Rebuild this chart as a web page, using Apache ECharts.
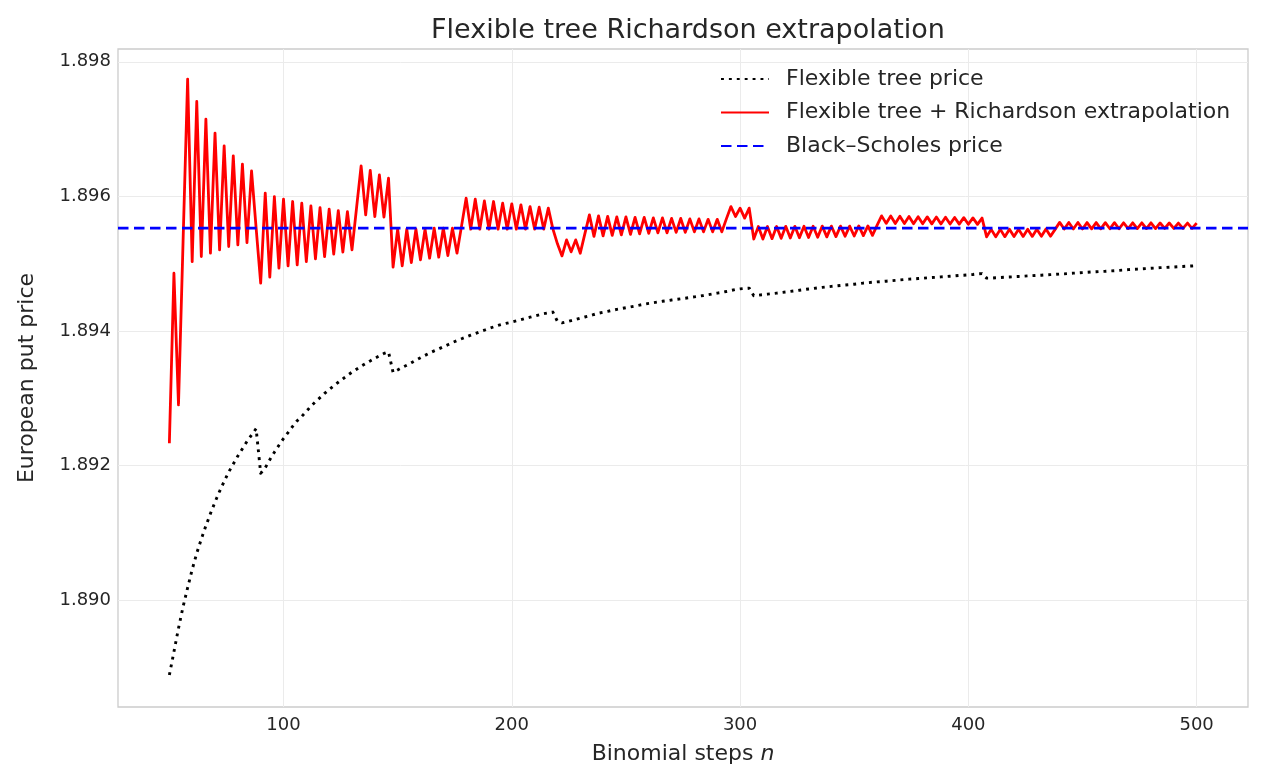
<!DOCTYPE html>
<html>
<head>
<meta charset="utf-8">
<title>Flexible tree Richardson extrapolation</title>
<script src="https://cdn.jsdelivr.net/npm/echarts@6/dist/echarts.min.js"></script>
<style>
  html, body { margin: 0; padding: 0; background: #ffffff; }
  #main { width: 1264px; height: 784px; }
</style>
</head>
<body>
<div id="main"></div>
<script>
// binomial steps n
var steps = [
	50, 52, 54, 56, 58, 60, 62, 64, 66, 68,
	70, 72, 74, 76, 78, 80, 82, 84, 86, 88,
	90, 92, 94, 96, 98, 100, 102, 104, 106, 108,
	110, 112, 114, 116, 118, 120, 122, 124, 126, 128,
	130, 132, 134, 136, 138, 140, 142, 144, 146, 148,
	150, 152, 154, 156, 158, 160, 162, 164, 166, 168,
	170, 172, 174, 176, 178, 180, 182, 184, 186, 188,
	190, 192, 194, 196, 198, 200, 202, 204, 206, 208,
	210, 212, 214, 216, 218, 220, 222, 224, 226, 228,
	230, 232, 234, 236, 238, 240, 242, 244, 246, 248,
	250, 252, 254, 256, 258, 260, 262, 264, 266, 268,
	270, 272, 274, 276, 278, 280, 282, 284, 286, 288,
	290, 292, 294, 296, 298, 300, 302, 304, 306, 308,
	310, 312, 314, 316, 318, 320, 322, 324, 326, 328,
	330, 332, 334, 336, 338, 340, 342, 344, 346, 348,
	350, 352, 354, 356, 358, 360, 362, 364, 366, 368,
	370, 372, 374, 376, 378, 380, 382, 384, 386, 388,
	390, 392, 394, 396, 398, 400, 402, 404, 406, 408,
	410, 412, 414, 416, 418, 420, 422, 424, 426, 428,
	430, 432, 434, 436, 438, 440, 442, 444, 446, 448,
	450, 452, 454, 456, 458, 460, 462, 464, 466, 468,
	470, 472, 474, 476, 478, 480, 482, 484, 486, 488,
	490, 492, 494, 496, 498, 500
];

// flexible tree price (black dotted)
var treePrice = [
	1.888885, 1.889230, 1.889581, 1.889899, 1.890183, 1.890454, 1.890696, 1.890906, 1.891103, 1.891285,
	1.891457, 1.891616, 1.891762, 1.891903, 1.892022, 1.892141, 1.892250, 1.892358, 1.892452, 1.892547,
	1.891884, 1.891966, 1.892086, 1.892196, 1.892300, 1.892400, 1.892489, 1.892580, 1.892665, 1.892730,
	1.892803, 1.892880, 1.892946, 1.893008, 1.893071, 1.893129, 1.893184, 1.893237, 1.893288, 1.893337,
	1.893387, 1.893430, 1.893474, 1.893515, 1.893554, 1.893593, 1.893630, 1.893665, 1.893688, 1.893383,
	1.893420, 1.893457, 1.893490, 1.893527, 1.893564, 1.893600, 1.893636, 1.893671, 1.893703, 1.893732,
	1.893764, 1.893795, 1.893827, 1.893856, 1.893883, 1.893909, 1.893936, 1.893961, 1.893987, 1.894010,
	1.894036, 1.894059, 1.894082, 1.894100, 1.894116, 1.894131, 1.894149, 1.894167, 1.894186, 1.894204,
	1.894222, 1.894239, 1.894256, 1.894269, 1.894280, 1.894141, 1.894119, 1.894134, 1.894152, 1.894171,
	1.894190, 1.894207, 1.894223, 1.894244, 1.894263, 1.894277, 1.894290, 1.894306, 1.894320, 1.894332,
	1.894345, 1.894357, 1.894370, 1.894384, 1.894397, 1.894409, 1.894419, 1.894430, 1.894440, 1.894449,
	1.894459, 1.894468, 1.894477, 1.894486, 1.894497, 1.894506, 1.894516, 1.894526, 1.894538, 1.894550,
	1.894562, 1.894572, 1.894586, 1.894601, 1.894616, 1.894625, 1.894632, 1.894636, 1.894523, 1.894531,
	1.894538, 1.894546, 1.894553, 1.894561, 1.894570, 1.894578, 1.894587, 1.894596, 1.894605, 1.894614,
	1.894623, 1.894630, 1.894639, 1.894647, 1.894654, 1.894662, 1.894668, 1.894675, 1.894681, 1.894687,
	1.894694, 1.894702, 1.894711, 1.894717, 1.894723, 1.894729, 1.894733, 1.894739, 1.894745, 1.894751,
	1.894757, 1.894763, 1.894769, 1.894773, 1.894778, 1.894782, 1.894788, 1.894793, 1.894798, 1.894803,
	1.894807, 1.894813, 1.894818, 1.894824, 1.894828, 1.894833, 1.894839, 1.894848, 1.894852, 1.894784,
	1.894785, 1.894790, 1.894794, 1.894798, 1.894801, 1.894806, 1.894809, 1.894813, 1.894818, 1.894821,
	1.894825, 1.894828, 1.894833, 1.894836, 1.894840, 1.894845, 1.894848, 1.894854, 1.894858, 1.894862,
	1.894867, 1.894871, 1.894876, 1.894879, 1.894883, 1.894886, 1.894891, 1.894895, 1.894900, 1.894904,
	1.894910, 1.894915, 1.894919, 1.894923, 1.894926, 1.894931, 1.894935, 1.894940, 1.894943, 1.894947,
	1.894950, 1.894955, 1.894958, 1.894962, 1.894965, 1.894970
];

// flexible tree + Richardson extrapolation (red)
var richardson = [
	1.892330, 1.894858, 1.892900, 1.895323, 1.897743, 1.895030, 1.897410, 1.895105, 1.897148, 1.895155,
	1.896940, 1.895204, 1.896751, 1.895254, 1.896602, 1.895279, 1.896479, 1.895313, 1.896379, 1.895532,
	1.894709, 1.896048, 1.894799, 1.895997, 1.894932, 1.895958, 1.894967, 1.895923, 1.894981, 1.895899,
	1.895030, 1.895859, 1.895071, 1.895833, 1.895105, 1.895810, 1.895141, 1.895789, 1.895170, 1.895774,
	1.895204, 1.895829, 1.896454, 1.895725, 1.896384, 1.895700, 1.896320, 1.895691, 1.896271, 1.894947,
	1.895512, 1.894967, 1.895512, 1.895016, 1.895512, 1.895056, 1.895512, 1.895081, 1.895527, 1.895096,
	1.895527, 1.895120, 1.895527, 1.895155, 1.895561, 1.895973, 1.895512, 1.895958, 1.895512, 1.895933,
	1.895512, 1.895923, 1.895512, 1.895899, 1.895512, 1.895889, 1.895512, 1.895874, 1.895512, 1.895848,
	1.895512, 1.895839, 1.895512, 1.895825, 1.895517, 1.895294, 1.895115, 1.895353, 1.895175, 1.895353,
	1.895155, 1.895442, 1.895725, 1.895405, 1.895710, 1.895413, 1.895703, 1.895420, 1.895695, 1.895428,
	1.895695, 1.895435, 1.895688, 1.895442, 1.895688, 1.895450, 1.895680, 1.895457, 1.895680, 1.895457,
	1.895673, 1.895465, 1.895673, 1.895465, 1.895665, 1.895472, 1.895665, 1.895472, 1.895658, 1.895472,
	1.895658, 1.895472, 1.895665, 1.895848, 1.895700, 1.895825, 1.895676, 1.895825, 1.895364, 1.895551,
	1.895365, 1.895552, 1.895371, 1.895552, 1.895376, 1.895554, 1.895380, 1.895554, 1.895384, 1.895555,
	1.895389, 1.895555, 1.895393, 1.895557, 1.895398, 1.895557, 1.895402, 1.895558, 1.895407, 1.895558,
	1.895411, 1.895560, 1.895416, 1.895560, 1.895420, 1.895569, 1.895710, 1.895598, 1.895707, 1.895597,
	1.895704, 1.895596, 1.895701, 1.895594, 1.895698, 1.895593, 1.895695, 1.895591, 1.895692, 1.895590,
	1.895689, 1.895588, 1.895686, 1.895587, 1.895683, 1.895585, 1.895680, 1.895584, 1.895677, 1.895398,
	1.895509, 1.895399, 1.895509, 1.895401, 1.895511, 1.895402, 1.895511, 1.895404, 1.895512, 1.895405,
	1.895512, 1.895407, 1.895514, 1.895408, 1.895509, 1.895613, 1.895514, 1.895612, 1.895515, 1.895612,
	1.895515, 1.895610, 1.895517, 1.895610, 1.895517, 1.895609, 1.895518, 1.895609, 1.895518, 1.895607,
	1.895520, 1.895607, 1.895520, 1.895606, 1.895521, 1.895606, 1.895521, 1.895604, 1.895523, 1.895604,
	1.895523, 1.895603, 1.895524, 1.895603, 1.895524, 1.895602
];

// Black-Scholes reference price (horizontal dashed line)
var blackScholes = 1.895527;

// axis ranges and tick labels
var xRange = [27.5, 522.5];
var yRange = [1.88841, 1.89819];
var xTicks = [100, 200, 300, 400, 500];
var yTicks = [1.890, 1.892, 1.894, 1.896, 1.898];

function juntar(xs, ys) {
	return xs.map(function(x, i) { return [x, ys[i]]; });
}

var fonte = 'DejaVu Sans';
var corTexto = '#262626';

var myChart = echarts.init(document.getElementById('main'));
var option = {
	animation: false,
	backgroundColor: '#ffffff',
	textStyle: { fontFamily: fonte },
	title: {
		text: 'Flexible tree Richardson extrapolation',
		left: 683,
		top: 12,
		textAlign: 'center',
		textStyle: { fontFamily: fonte, fontSize: 27, fontWeight: 'normal', color: corTexto }
	},
	legend: {
		orient: 'vertical',
		left: 720,
		top: 68,
		padding: 0,
		itemWidth: 48,
		itemHeight: 14,
		itemGap: 11.5,
		itemStyle: { opacity: 0 },
		textStyle: { fontFamily: fonte, fontSize: 22, color: corTexto, padding: [0, 0, 0, 12] },
		data: ['Flexible tree price', 'Flexible tree + Richardson extrapolation', 'Black\u2013Scholes price']
	},
	grid: {
		left: 118, right: 16, top: 49, bottom: 77,
		show: true,
		borderColor: '#cccccc',
		borderWidth: 1.3,
		backgroundColor: 'transparent'
	},
	xAxis: {
		type: 'value',
		min: xRange[0],
		max: xRange[1],
		name: '{a|Binomial steps }{i|n}',
		nameLocation: 'middle',
		nameGap: 36,
		nameTextStyle: {
			rich: {
				a: { fontFamily: fonte, fontSize: 22, color: corTexto },
				i: { fontFamily: fonte, fontSize: 22, color: corTexto, fontStyle: 'italic' }
			}
		},
		axisLine: { show: false },
		axisTick: { show: false, customValues: xTicks },
		axisLabel: { customValues: xTicks, fontFamily: fonte, fontSize: 18, color: corTexto, margin: 9 },
		splitLine: { show: true, lineStyle: { color: '#ebebeb', width: 1 } }
	},
	yAxis: {
		type: 'value',
		min: yRange[0],
		max: yRange[1],
		name: 'European put price',
		nameLocation: 'middle',
		nameGap: 80,
		nameTextStyle: { fontFamily: fonte, fontSize: 22, color: corTexto },
		axisLine: { show: false },
		axisTick: { show: false, customValues: yTicks },
		axisLabel: {
			customValues: yTicks, fontFamily: fonte, fontSize: 18, color: corTexto, margin: 7,
			formatter: function(v) { return v.toFixed(3); }
		},
		splitLine: { show: true, lineStyle: { color: '#ebebeb', width: 1 } }
	},
	series: [
		{
			name: 'Flexible tree price',
			type: 'line',
			data: juntar(steps, treePrice),
			symbol: 'none',
			showSymbol: false,
			lineStyle: { color: '#000000', width: 2.9, type: [2.9, 5], cap: 'butt', join: 'round' },
			itemStyle: { color: '#000000' }
		},
		{
			name: 'Flexible tree + Richardson extrapolation',
			type: 'line',
			data: juntar(steps, richardson),
			symbol: 'none',
			showSymbol: false,
			lineStyle: { color: '#ff0000', width: 2.8, join: 'round' },
			itemStyle: { color: '#ff0000' }
		},
		{
			name: 'Black\u2013Scholes price',
			type: 'line',
			data: [[xRange[0], blackScholes], [xRange[1], blackScholes]],
			symbol: 'none',
			showSymbol: false,
			lineStyle: { color: '#0000ff', width: 2.8, type: [10.5, 5.5], cap: 'butt' },
			itemStyle: { color: '#0000ff' }
		}
	]
};

myChart.setOption(option);
</script>
</body>
</html>
